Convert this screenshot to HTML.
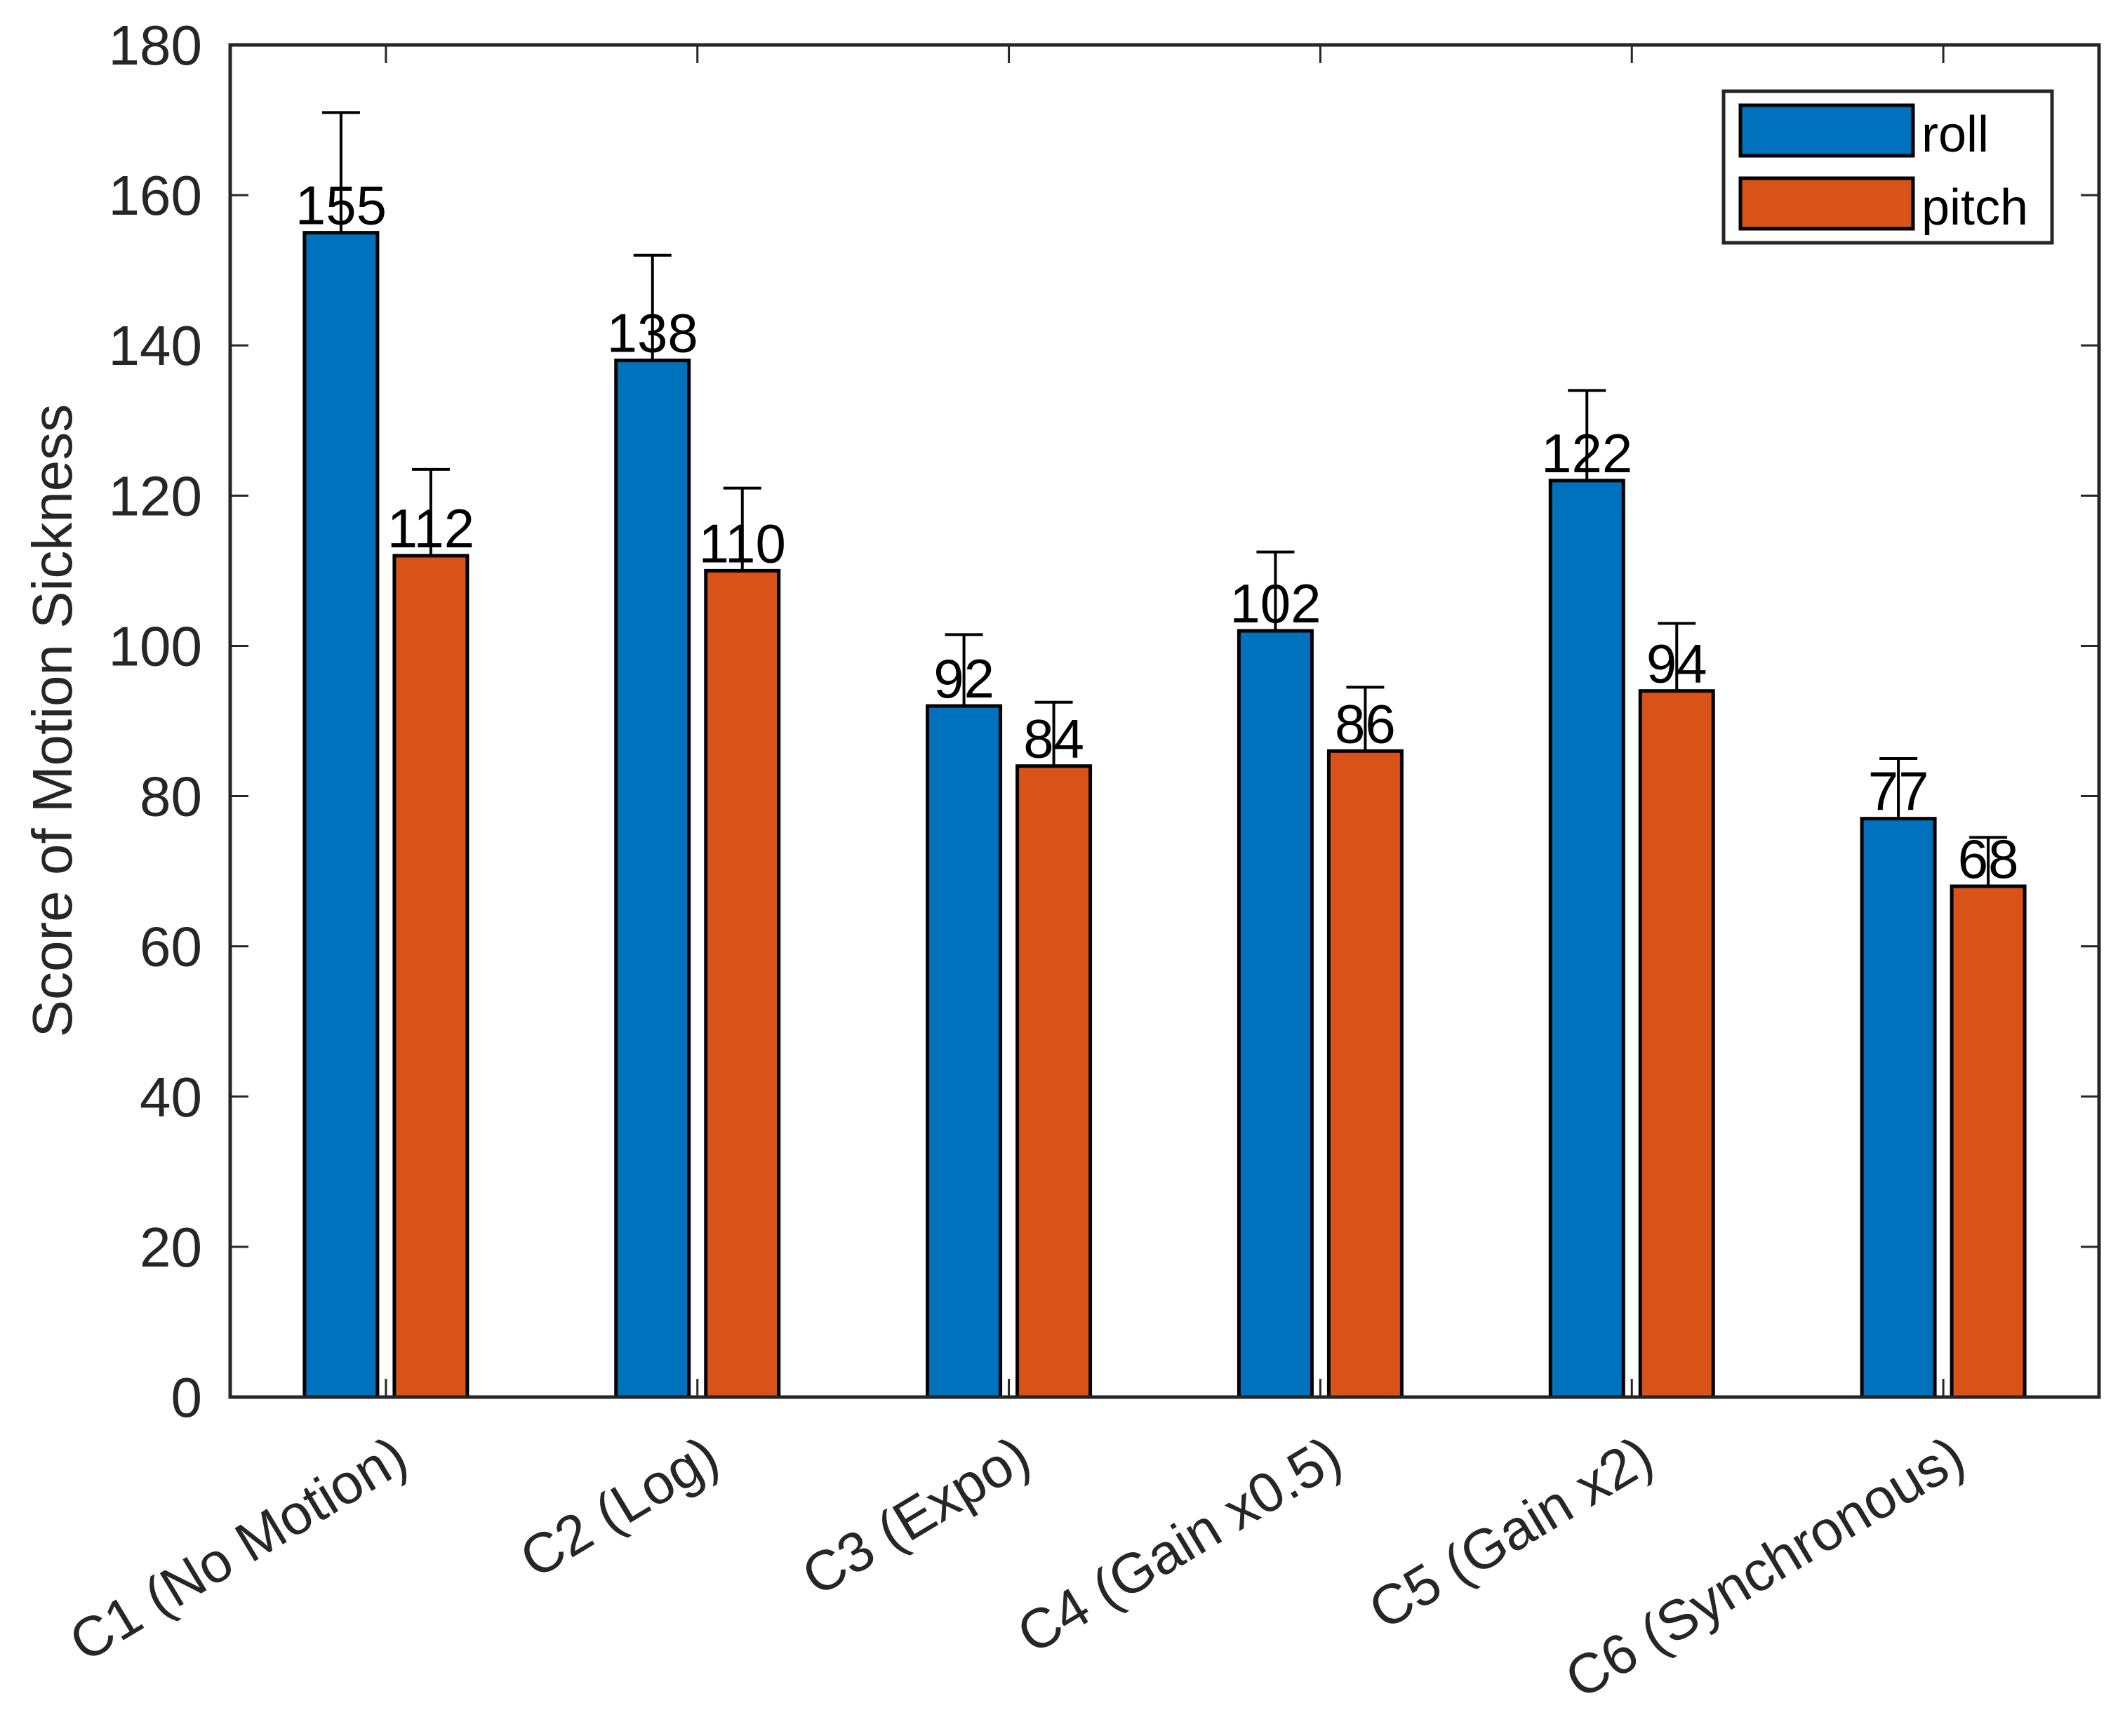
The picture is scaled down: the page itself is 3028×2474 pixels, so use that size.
<!DOCTYPE html>
<html><head><meta charset="utf-8"><style>
html,body{margin:0;padding:0;background:#fff;}
svg{display:block;font-family:"Liberation Sans",Arial,sans-serif;}
</style></head><body>
<svg id="chart" width="3028" height="2474" viewBox="0 0 3028 2474" xmlns="http://www.w3.org/2000/svg">
<rect x="0" y="0" width="3028" height="2474" fill="#fff"/>
<g id="plot"></g>
</svg>
<script>
const categories = ["C1 (No Motion)","C2 (Log)","C3 (Expo)","C4 (Gain x0.5)","C5 (Gain x2)","C6 (Synchronous)"];
const rollValues = [155,138,92,102,122,77];
const pitchValues = [112,110,84,86,94,68];
const rollErrors = [16,14,9.5,10.5,12,8];
const pitchErrors = [11.5,11,8.5,8.5,9,6.5];
const yTicks = [0,20,40,60,80,100,120,140,160,180];
const seriesNames = ["roll","pitch"];

const NS="http://www.w3.org/2000/svg";
const L=328,R=2991,T=64,B=1991;
const yMax=180;
function yScale(v){return B-(v/yMax)*(B-T);}
const groupW=(R-L)/categories.length;
function xCenter(i){return L+groupW*(i+0.5);}
const barW=104, off=64;
const g=document.getElementById('plot');
function mk(tag,attrs,parent){const e=document.createElementNS(NS,tag);for(const k in attrs)e.setAttribute(k,attrs[k]);(parent||g).appendChild(e);return e;}

yTicks.forEach(t=>{
  const y=yScale(t);
  const a=mk('line',{x1:L,x2:L+26,y1:y,y2:y,stroke:'#262626','stroke-width':3});
  
  
  const b=mk('line',{x1:R-26,x2:R,y1:y,y2:y,stroke:'#262626','stroke-width':3});
  
  
  const tx=mk('text',{x:L-40,y:y+28,'text-anchor':'end','font-size':80,fill:'#262626'});
  tx.textContent=t;
  
  
});

const series=[{vals:rollValues,errs:rollErrors,color:'#0072BD',dx:-off,name:'roll'},{vals:pitchValues,errs:pitchErrors,color:'#D95319',dx:off,name:'pitch'}];
categories.forEach((c,i)=>{
  const cx=xCenter(i);
  const tb=mk('line',{x1:cx,x2:cx,y1:B,y2:B-26,stroke:'#262626','stroke-width':3});
  
  
  const tt=mk('line',{x1:cx,x2:cx,y1:T,y2:T+26,stroke:'#262626','stroke-width':3});
  
  
  series.forEach(s=>{
    const v=s.vals[i], bx=cx+s.dx;
    const r=mk('rect',{x:bx-barW/2,y:yScale(v),width:barW,height:B-yScale(v),fill:s.color,stroke:'#000','stroke-width':5});
    
    
    const top=yScale(v+s.errs[i]);
    const el=mk('line',{x1:bx,x2:bx,y1:yScale(v),y2:top,stroke:'#000','stroke-width':4});
    
    
    const cap=mk('line',{x1:bx-27,x2:bx+27,y1:top,y2:top,stroke:'#000','stroke-width':4});
    
    
    const lb=mk('text',{x:bx,y:yScale(v)-12,'text-anchor':'middle','font-size':78,fill:'#000'});
    lb.textContent=v;
    
    
  });
  const ax=cx+36, ay=B+100;
  const cl=mk('text',{x:ax,y:ay,'text-anchor':'end','font-size':80,fill:'#262626',transform:'rotate(-31 '+ax+' '+ay+')'});
  cl.textContent=c;
  
  
});

const box=mk('rect',{x:L,y:T,width:R-L,height:B-T,fill:'none',stroke:'#262626','stroke-width':5});



const yt=mk('text',{x:0,y:0,'text-anchor':'middle','font-size':80,fill:'#262626',transform:'translate(102 1027) rotate(-90)'});
yt.textContent='Score of Motion Sickness';



const lg=mk('g',{});


const lbx=mk('rect',{x:2456,y:130,width:468,height:216,fill:'#fff',stroke:'#262626','stroke-width':5},lg);


seriesNames.forEach((n,k)=>{
  const y0=150+k*104;
  const p=mk('rect',{x:2480,y:y0,width:246,height:72,fill:series[k].color,stroke:'#000','stroke-width':5},lg);
  
  
  const t=mk('text',{x:2738,y:y0+66,'font-size':72,fill:'#000'},lg);
  t.textContent=n;
  
  
});
</script>
</body></html>
